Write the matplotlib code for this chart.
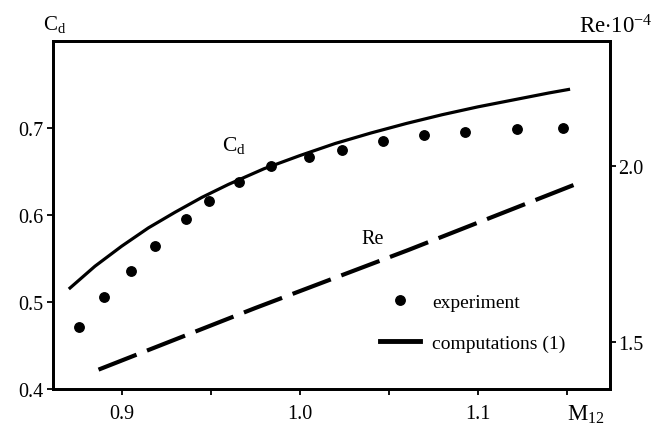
import matplotlib
matplotlib.use("Agg")
import matplotlib.pyplot as plt
import matplotlib.transforms as mtransforms
from matplotlib.lines import Line2D

plt.rcParams['font.family'] = ['Liberation Serif', 'DejaVu Serif']
plt.rcParams['mathtext.fontset'] = 'custom'
plt.rcParams['mathtext.rm'] = 'Liberation Serif'
plt.rcParams['mathtext.it'] = 'Liberation Serif:italic'

# experiment points (M12, Cd)
m_exp = [0.876, 0.890, 0.905, 0.919, 0.936, 0.949, 0.966, 0.984, 1.005,
         1.024, 1.047, 1.070, 1.093, 1.122, 1.148]
cd_exp = [0.471, 0.506, 0.535, 0.564, 0.595, 0.616, 0.638, 0.656, 0.667,
          0.675, 0.685, 0.692, 0.695, 0.699, 0.700]

# computed Cd curve
m_cd = [0.871, 0.885, 0.900, 0.915, 0.930, 0.945, 0.960, 0.980, 1.000,
        1.020, 1.040, 1.060, 1.080, 1.100, 1.120, 1.140, 1.151]
cd_calc = [0.516, 0.541, 0.564, 0.585, 0.603, 0.620, 0.635, 0.653, 0.668,
           0.682, 0.694, 0.705, 0.715, 0.724, 0.732, 0.740, 0.744]

# computed Re*1e-4 (right axis)
m_re = [0.887, 0.975, 1.061, 1.159]
re_calc = [1.422, 1.597, 1.762, 1.957]

x_ticks = [0.9, 0.95, 1.0, 1.05, 1.1, 1.15]
x_labels = ['0.9', '', '1.0', '', '1.1', '']
cd_ticks = [0.4, 0.5, 0.6, 0.7]
re_ticks = [1.5, 2.0]

fig = plt.figure(figsize=(6.54, 4.27), dpi=100)
ax = fig.add_axes([0.0815, 0.0867, 0.8512, 0.8156])
ax2 = ax.twinx()

ax.plot(m_cd, cd_calc, color='k', lw=2.3)
ax.plot(m_exp, cd_exp, 'o', color='k', ms=6.8, ls='none')
ax2.plot(m_re, re_calc, color='k', lw=3.0, dashes=(9.8, 2.7))

ax.set_xlim(0.8616, 1.1743)
ax.set_ylim(0.4, 0.8)
ax2.set_ylim(1.367, 2.357)

ax.set_xticks(x_ticks)
ax.set_xticklabels(x_labels)
ax.set_yticks(cd_ticks)
ax.set_yticklabels([f'{v:.1f}' for v in cd_ticks])
ax2.set_yticks(re_ticks)
ax2.set_yticklabels([f'{v:.1f}' for v in re_ticks])

for a in (ax, ax2):
    for s in a.spines.values():
        s.set_linewidth(2.0)
ax.tick_params(axis='x', direction='out', length=4, width=1.3, labelsize=14.5, pad=7)
ax.tick_params(axis='y', direction='out', length=4, width=1.3, labelsize=14.5, pad=3)
ax2.tick_params(axis='y', direction='out', length=4, width=1.3, labelsize=14.5, pad=2)

# axis captions
fig.text(0.0662, 0.9297, r'C$_{\rm d}$', fontsize=15, ha='left', va='baseline')
fig.text(0.998, 0.9227, r'Re$\cdot$10$^{-4}$', fontsize=16.5, ha='right', va='baseline')
trans = mtransforms.blended_transform_factory(ax.transData, ax.transAxes)
ax.text(1.15, -0.089, r'M$_{12}$', transform=trans, fontsize=16.5, ha='left', va='baseline')

# curve labels
ax.text(0.9562, 0.6744, r'C$_{\rm d}$', fontsize=15.5, ha='left', va='baseline')
ax.text(1.0348, 0.5674, 'Re', fontsize=14.5, ha='left', va='baseline')

handles = [Line2D([], [], marker='o', ls='none', color='k', ms=6.8),
           Line2D([], [], color='k', lw=3.5)]
leg = ax2.legend(handles, ['experiment', 'computations (1)'], frameon=False,
                 loc='center left', bbox_to_anchor=(0.587, 0.19),
                 borderpad=0, borderaxespad=0, handlelength=2.06,
                 handletextpad=0.6, labelspacing=1.2, fontsize=14)

fig.savefig('out.png', dpi=100)
